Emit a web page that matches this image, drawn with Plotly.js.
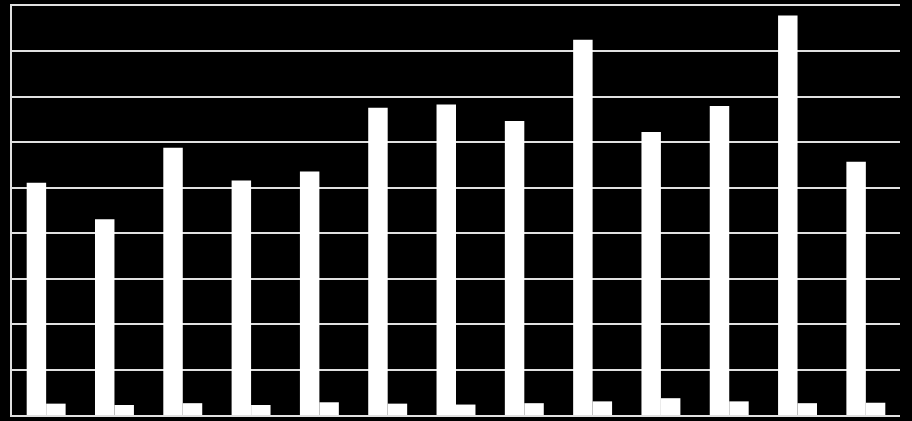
<!DOCTYPE html>
<html>
<head>
<meta charset="utf-8">
<script src="https://cdn.plot.ly/plotly-3.0.1.min.js"></script>
<style>
  html, body { margin: 0; padding: 0; background: #000; }
  #chart { width: 912px; height: 421px; }
</style>
</head>
<body>
<div id="chart"></div>
<script>
// 13 groups, a tall series and a small one, no visible labels
const categories = ["1", "2", "3", "4", "5", "6", "7", "8", "9", "10", "11", "12", "13"];
const seriesA = [5.11, 4.31, 5.88, 5.16, 5.36, 6.76, 6.83, 6.47, 8.26, 6.23, 6.80, 8.79, 5.57];
const seriesB = [0.25, 0.22, 0.26, 0.22, 0.28, 0.25, 0.23, 0.26, 0.30, 0.37, 0.30, 0.26, 0.27];

const GRID = "#e0e0e0";

const barStyle = { color: "#ffffff", line: { width: 0 } };

Plotly.newPlot(
  "chart",
  [
    { type: "bar", name: "A", x: categories, y: seriesA, marker: barStyle, hoverinfo: "skip" },
    { type: "bar", name: "B", x: categories, y: seriesB, marker: barStyle, hoverinfo: "skip" },
  ],
  {
    width: 912,
    height: 421,
    paper_bgcolor: "#000000",
    plot_bgcolor: "#000000",
    margin: { t: 6, r: 12, b: 6, l: 12 },
    showlegend: false,
    barmode: "group",
    bargap: 0.43,
    bargroupgap: 0,
    xaxis: {
      type: "category",
      showgrid: false,
      showticklabels: false,
      ticks: "",
      showline: true,
      mirror: true, // top border line, as in the reference
      linecolor: GRID,
      linewidth: 2,
      zeroline: false,
    },
    yaxis: {
      range: [0, 9],
      dtick: 1,
      showticklabels: false,
      ticks: "",
      showgrid: true,
      gridcolor: GRID,
      gridwidth: 2,
      zeroline: false,
      showline: true,
      linecolor: GRID,
      linewidth: 2,
    },
  },
  { displayModeBar: false, staticPlot: true }
);
</script>
</body>
</html>
